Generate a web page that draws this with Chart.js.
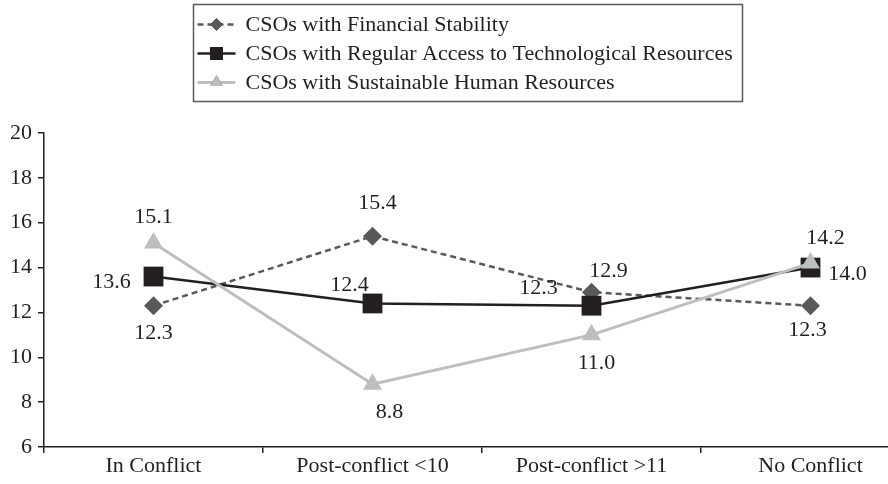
<!DOCTYPE html>
<html>
<head>
    <title>CSO Resources by Conflict Status</title>
    <script src="https://cdn.jsdelivr.net/npm/chart.js@4.4.0/dist/chart.umd.min.js"></script>
    <style>
        html, body {
            margin: 0;
            padding: 0;
            background: white;
            overflow: hidden;
        }
        .chart-container {
            position: relative;
            width: 934px;
            height: 484px;
        }
    </style>
</head>
<body>
    <div class="chart-container">
        <canvas id="csoChart"></canvas>
    </div>

    <script>
        const categories = ['In Conflict', 'Post-conflict <10', 'Post-conflict >11', 'No Conflict'];
        const financialStability = [12.3, 15.4, 12.9, 12.3];
        const techResources = [13.6, 12.4, 12.3, 14.0];
        const humanResources = [15.1, 8.8, 11.0, 14.2];
        const yTicks = [6, 8, 10, 12, 14, 16, 18, 20];

        const FONT = '"Liberation Serif", "Times New Roman", serif';
        const TEXT = '#231f20';

        // value labels, placed with per-point [dx, dy] offsets from the marker
        const labelPlugin = {
            id: 'pointLabels',
            afterDatasetsDraw(chart) {
                const ctx = chart.ctx;
                ctx.save();
                ctx.font = '22px ' + FONT;
                ctx.fillStyle = TEXT;
                ctx.textAlign = 'center';
                ctx.textBaseline = 'middle';
                chart.data.datasets.forEach((ds, i) => {
                    const meta = chart.getDatasetMeta(i);
                    meta.data.forEach((pt, j) => {
                        const off = ds.labelOffsets[j];
                        ctx.fillText(ds.data[j].toFixed(1), pt.x + off[0], pt.y + off[1]);
                    });
                });
                ctx.restore();
            }
        };

        // boxed legend with line + marker samples
        const legendPlugin = {
            id: 'boxLegend',
            afterDraw(chart) {
                const ctx = chart.ctx;
                const items = chart.data.datasets.slice().sort((a, b) => a.legendPos - b.legendPos);
                ctx.save();
                ctx.font = '22px ' + FONT;
                let maxW = 0;
                items.forEach(ds => { maxW = Math.max(maxW, ctx.measureText(ds.label).width); });
                const rowH = 29;
                const boxW = Math.round(52 + maxW + 10);
                const boxH = rowH * items.length + 10;
                const left = Math.round(chart.width / 2 - boxW / 2) + 0.5;
                const top = 4.5;
                ctx.strokeStyle = '#58595b';
                ctx.lineWidth = 1.5;
                ctx.strokeRect(left, top, boxW, boxH);
                items.forEach((ds, k) => {
                    const y = top + 20 + k * rowH;
                    const x0 = left + 4, x1 = left + 42;
                    ctx.strokeStyle = ds.borderColor;
                    ctx.lineWidth = ds.borderWidth;
                    ctx.setLineDash(ds.borderDash || []);
                    ctx.beginPath();
                    ctx.moveTo(x0, y);
                    ctx.lineTo(x1, y);
                    ctx.stroke();
                    ctx.setLineDash([]);
                    Chart.helpers.drawPoint(ctx, {
                        pointStyle: ds.pointStyle,
                        radius: ds.pointRadius * 0.65,
                        borderWidth: 0
                    }, (x0 + x1) / 2, y);
                    ctx.fillStyle = ds.pointBackgroundColor;
                    ctx.fill();
                    ctx.fillStyle = TEXT;
                    ctx.textAlign = 'left';
                    ctx.textBaseline = 'middle';
                    ctx.fillText(ds.label, left + 52, y + 1);
                });
                ctx.restore();
            }
        };

        const ctx = document.getElementById('csoChart').getContext('2d');
        new Chart(ctx, {
            type: 'line',
            data: {
                labels: categories,
                datasets: [{
                    label: 'CSOs with Financial Stability',
                    data: financialStability,
                    borderColor: '#58595b',
                    backgroundColor: '#58595b',
                    pointBackgroundColor: '#58595b',
                    borderWidth: 2.5,
                    borderDash: [6, 4],
                    pointStyle: 'rectRot',
                    pointRadius: 9.5,
                    pointBorderWidth: 0,
                    order: 2,
                    legendPos: 0,
                    labelOffsets: [[0, 28], [5, -33], [17, -21], [-3, 25]]
                }, {
                    label: 'CSOs with Regular Access to Technological Resources',
                    data: techResources,
                    borderColor: '#231f20',
                    backgroundColor: '#231f20',
                    pointBackgroundColor: '#231f20',
                    borderWidth: 2.5,
                    pointStyle: 'rect',
                    pointRadius: 14,
                    pointBorderWidth: 0,
                    order: 1,
                    legendPos: 1,
                    labelOffsets: [[-42, 6], [-23, -18], [-53, -17], [37, 7]]
                }, {
                    label: 'CSOs with Sustainable Human Resources',
                    data: humanResources,
                    borderColor: '#bcbec0',
                    backgroundColor: '#bcbec0',
                    pointBackgroundColor: '#bcbec0',
                    borderWidth: 3,
                    pointStyle: 'triangle',
                    pointRadius: 11,
                    pointBorderWidth: 0,
                    order: 0,
                    legendPos: 2,
                    labelOffsets: [[0, -26], [17, 28], [5, 28], [15, -25]]
                }]
            },
            options: {
                responsive: true,
                maintainAspectRatio: false,
                animation: false,
                layout: { padding: { top: 133, right: 0, left: 0, bottom: 0 } },
                plugins: {
                    legend: { display: false },
                    tooltip: { enabled: false }
                },
                scales: {
                    x: {
                        offset: true,
                        grid: {
                            display: true,
                            drawOnChartArea: false,
                            offset: true,
                            tickLength: 6,
                            color: '#231f20',
                            lineWidth: 1.5
                        },
                        border: { color: '#231f20', width: 1.5 },
                        ticks: {
                            color: TEXT,
                            font: { family: FONT, size: 22 },
                            padding: 0
                        },
                        afterFit(scale) { scale.height = 37; }
                    },
                    y: {
                        min: 6,
                        max: 20,
                        afterBuildTicks(scale) {
                            scale.ticks = yTicks.map(v => ({ value: v }));
                        },
                        grid: {
                            display: true,
                            drawOnChartArea: false,
                            tickLength: 6,
                            color: '#231f20',
                            lineWidth: 1.5
                        },
                        border: { color: '#231f20', width: 1.5 },
                        ticks: {
                            color: TEXT,
                            font: { family: FONT, size: 22 },
                            padding: 6
                        },
                        afterFit(scale) { scale.width = 44; }
                    }
                }
            },
            plugins: [labelPlugin, legendPlugin]
        });
    </script>
</body>
</html>
